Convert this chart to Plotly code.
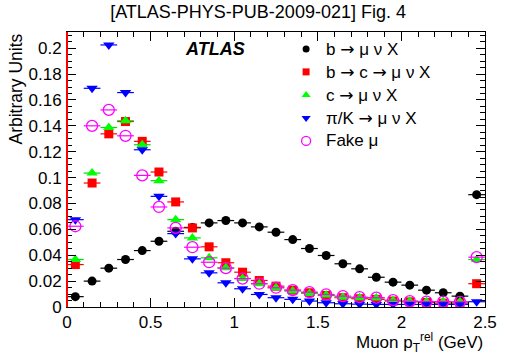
import plotly.graph_objects as go

# bin centres (GeV), last bin = overflow
bin_centers = [0.05, 0.15, 0.25, 0.35, 0.45, 0.55, 0.65, 0.75, 0.85, 0.95,
               1.05, 1.15, 1.25, 1.35, 1.45, 1.55, 1.65, 1.75, 1.85, 1.95,
               2.05, 2.15, 2.25, 2.35, 2.45]
bin_half_width = 0.05

b_mu = [0.008, 0.020, 0.030, 0.0367, 0.0436, 0.0508, 0.0585, 0.0615, 0.065, 0.0668,
        0.065, 0.0619, 0.0578, 0.0521, 0.0452, 0.0398, 0.0334, 0.0295, 0.023, 0.0192,
        0.0169, 0.013, 0.011, 0.0084, 0.0868]
b_c_mu = [0.0328, 0.0958, 0.1338, 0.1433, 0.128, 0.1043, 0.0812, 0.0611, 0.0465, 0.0342,
          0.0269, 0.0205, 0.0161, 0.013, 0.011, 0.0089, 0.0072, 0.0064, 0.0059, 0.0046,
          0.004, 0.0035, 0.003, 0.003, 0.018]
c_mu = [0.0367, 0.1035, 0.1387, 0.1439, 0.1254, 0.0976, 0.0675, 0.0534, 0.038, 0.0303,
        0.022, 0.018, 0.0149, 0.0123, 0.0105, 0.0092, 0.0076, 0.0072, 0.007, 0.005,
        0.0045, 0.0042, 0.004, 0.004, 0.0367]
pik_mu = [0.0675, 0.169, 0.2025, 0.1657, 0.1215, 0.0855, 0.0567, 0.0372, 0.0264, 0.0187,
          0.0141, 0.0097, 0.0072, 0.0059, 0.0046, 0.0033, 0.0025, 0.0022, 0.002, 0.002,
          0.002, 0.002, 0.002, 0.002, 0.0041]
fake_mu = [0.0624, 0.140, 0.1523, 0.1323, 0.1017, 0.0773, 0.0611, 0.0462, 0.0346, 0.030,
           0.022, 0.018, 0.0149, 0.013, 0.0115, 0.0097, 0.0084, 0.0076, 0.0072, 0.0053,
           0.0045, 0.0042, 0.0042, 0.004, 0.0385]

ARROW = "<span style=\"font-family:'DejaVu Sans'\">\u2192</span>"
series_names = ["b " + ARROW + " \u03bc \u03bd X",
                "b " + ARROW + " c " + ARROW + " \u03bc \u03bd X",
                "c " + ARROW + " \u03bc \u03bd X",
                "\u03c0/K " + ARROW + " \u03bc \u03bd X",
                "Fake \u03bc"]
series_values = [b_mu, b_c_mu, c_mu, pik_mu, fake_mu]
series_styles = [
    dict(ecol="black", sym="circle", size=9, mcol="black"),
    dict(ecol="red", sym="square", size=9, mcol="red"),
    dict(ecol="#00dd00", sym="triangle-up", size=10, mcol="#00ff00"),
    dict(ecol="blue", sym="triangle-down", size=10, mcol="blue"),
    dict(ecol="magenta", sym="circle-open", size=11, mcol="magenta"),
]

FONT = "Liberation Sans, Arial, sans-serif"

fig = go.Figure()
for name, vals, st in zip(series_names, series_values, series_styles):
    fig.add_trace(go.Scatter(
        x=bin_centers, y=vals, name=name, mode="markers", showlegend=False,
        marker=dict(symbol=st["sym"], size=st["size"], color=st["mcol"],
                    line=dict(width=1.3 if st["sym"] == "circle-open" else 0, color=st["mcol"])),
        error_x=dict(type="constant", value=bin_half_width, color=st["ecol"],
                     thickness=1.2, width=0),
    ))

# legend (drawn on an overlay axis in plot-fraction units)
leg_x_marker = 0.572
leg_x_text = 0.614
leg_rows = [0.938, 0.855, 0.771, 0.687, 0.604]
for name, st, yy in zip(series_names, series_styles, leg_rows):
    fig.add_trace(go.Scatter(
        x=[leg_x_marker], y=[yy], mode="markers", showlegend=False,
        xaxis="x2", yaxis="y2", hoverinfo="skip",
        marker=dict(symbol=st["sym"], size=st["size"] - 2, color=st["mcol"],
                    line=dict(width=1.3 if st["sym"] == "circle-open" else 0, color=st["mcol"])),
    ))
    fig.add_annotation(text=name, xref="paper", yref="paper", x=leg_x_text, y=yy,
                       xanchor="left", yanchor="middle", showarrow=False,
                       font=dict(size=17, family=FONT))

fig.update_layout(
    width=509, height=355,
    margin=dict(l=67, r=12, t=32, b=48),
    paper_bgcolor="white", plot_bgcolor="white",
    font=dict(family=FONT, size=17, color="black"),
    showlegend=False,
    title=dict(text="[ATLAS-PHYS-PUB-2009-021] Fig. 4", x=0.507, xanchor="center",
               y=0.985, yanchor="top", font=dict(size=18, family=FONT)),
    xaxis2=dict(overlaying="x", range=[0, 1], visible=False, fixedrange=True),
    yaxis2=dict(overlaying="y", range=[0, 1], visible=False, fixedrange=True),
    xaxis=dict(
        range=[0, 2.5], showgrid=False, zeroline=False,
        showline=True, linecolor="black", linewidth=1, mirror="ticks",
        ticks="inside", ticklen=9, tickcolor="black", tickwidth=1,
        tickvals=[0, 0.5, 1, 1.5, 2, 2.5], ticktext=["0", "0.5", "1", "1.5", "2", "2.5"],
        minor=dict(dtick=0.1, ticklen=5, ticks="inside", tickcolor="black"),
        tickfont=dict(size=17, family=FONT),
    ),
    yaxis=dict(
        range=[0, 0.2125], showgrid=False, zeroline=False,
        showline=True, linecolor="black", linewidth=1, mirror="ticks",
        ticks="inside", ticklen=9, tickcolor="black", tickwidth=1,
        tickvals=[0, 0.02, 0.04, 0.06, 0.08, 0.1, 0.12, 0.14, 0.16, 0.18, 0.2],
        ticktext=["0", "0.02", "0.04", "0.06", "0.08", "0.1", "0.12", "0.14", "0.16", "0.18", "0.2"],
        minor=dict(dtick=0.005, ticklen=5, ticks="inside", tickcolor="black"),
        tickfont=dict(size=17, family=FONT), ticklabelstandoff=1,
    ),
)

# red left axis line
fig.add_shape(type="line", xref="paper", yref="paper", x0=0, x1=0, y0=0, y1=1,
              line=dict(color="red", width=2))

fig.add_annotation(text="<b><i>ATLAS</i></b>", xref="paper", yref="paper",
                   x=0.355, y=0.94, xanchor="center", yanchor="middle",
                   showarrow=False, font=dict(size=18, family=FONT))
fig.add_annotation(text="Arbitrary Units", xref="paper", yref="paper",
                   x=0, xshift=-40, y=1.0, xanchor="right", yanchor="top", textangle=-90,
                   showarrow=False, font=dict(size=17.5, family=FONT))
fig.add_annotation(text="Muon p<sub>T</sub><sup>rel</sup> (GeV)", xref="paper", yref="paper",
                   x=1.0, y=-0.128, xanchor="right", yanchor="middle",
                   showarrow=False, font=dict(size=17, family=FONT))

fig.write_html("out.html")
